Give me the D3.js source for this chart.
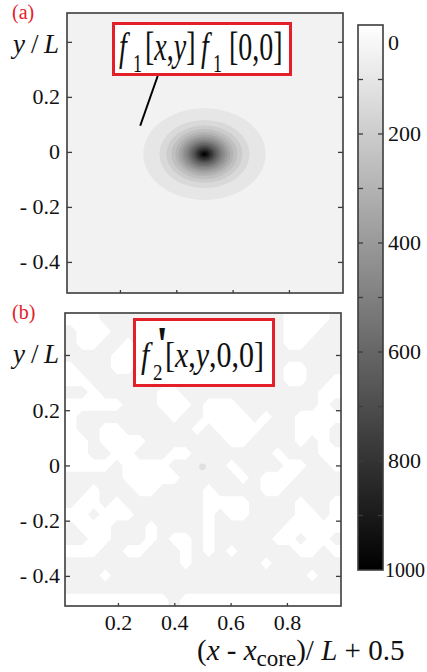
<!DOCTYPE html>
<html>
<head>
<meta charset="utf-8">
<script src="https://cdn.jsdelivr.net/npm/d3@7"></script>
</head>
<body style="margin:0;padding:0;background:#fff">
<svg id="fig" width="427" height="672" style="display:block"></svg>
<script>
// ---------- axes ----------
const xDomain = [0.012, 0.992];
const yDomainA = [-0.513, 0.505];
const yDomainB = [-0.509, 0.552];
const xTickValues = [0.2, 0.4, 0.6, 0.8];
const xTickLabels = ["0.2", "0.4", "0.6", "0.8"];
const yTickValues = [0.4, 0.2, 0, -0.2, -0.4];
const yTickLabels = ["", "0.2", "0", "- 0.2", "- 0.4"];

// ---------- colour bar ----------
const cbDomain = [0, 1000];
const cbTickValues = [0, 100, 200, 300, 400, 500, 600, 700, 800, 900, 1000];
const cbLabelValues = [0, 200, 400, 600, 800, 1000];

// ---------- (a) f1 around the vortex core: filled levels, semi-axes in units of L ----------
const f1Core = [0.5, -0.008];
const f1Levels = [50, 100, 150, 200, 250, 300, 350, 400, 450, 500,
                  550, 600, 650, 700, 750, 800, 850, 900, 950];
const f1Rx = [0.217, 0.160, 0.135, 0.117, 0.103, 0.092, 0.082, 0.073, 0.064, 0.057,
              0.050, 0.043, 0.037, 0.032, 0.027, 0.021, 0.016, 0.011, 0.005];
const f1Ry = [0.167, 0.124, 0.104, 0.091, 0.080, 0.071, 0.063, 0.056, 0.049, 0.044,
              0.039, 0.033, 0.029, 0.025, 0.021, 0.016, 0.012, 0.008, 0.004];

// ---------- (b) f2' residual: sign map, rows from top to bottom ('g' >= 0, 'w' < 0) ----------
const f2Rows = [
  "wwwggg gggggg gggggg gwwwwg",
  "gwwwgg gggggg gggggg gwwwgg",
  "gwwggw gggggg gggggg gwwggg",
  "ggggww gggggg gggggg gggggg",
  "wgggww gggggg gggggg gwwggg",
  "wwgggg gggggg gggggg gwwggw",
  "ggwggg ggwwgg gggggg ggggww",
  "wwwwwg ggwwwg wwwggg ggggwg",
  "wggggg gggwgg wwwwgw ggwwww",
  "wggwwg gggggw gwwwwg ggwwwg",
  "wwgwww wggggg ggwwgg ggwgwg",
  "wwggww gggwwg gggggg wgggww",
  "wwwwgw wwwggg ggwggg gwwggw",
  "gggggw wwwwgg gggwgw wwgggg",
  "ggwggg wwgggg wggggw wggggg",
  "gwwgwg gggggg wwwwgg ggwggw",
  "wwgwww gggggg wgwwgg ggwwgw",
  "gwwwgg gwgggg wggggg gwwwww",
  "ggwwgg gwgwwg wggggg wwgwwg",
  "wwwggw wgggwg wgwggg ggwwgw",
  "gggggg ggggwg gggggw gggggg",
  "gggwgg gggggg gggggg gggwgg",
  "gggggg gggggg gggggg gggggg",
  "wwwwww wwwgww wwwwww wwwwww"
];
const f2Peak = { x: 0.5, y: -0.005, r: 0.012, value: 150 };

// ---------- layout ----------
const panelA = { x0: 67, x1: 343, y0: 13, y1: 293 };
const panelB = { x0: 65, x1: 341, y0: 313, y1: 606 };
const cbBox = { x0: 358, x1: 383, y0: 25, y1: 570 };
const RED = "#e3202a";
const FRAME = "#3c3c3c";
const SERIF = '"Liberation Serif", "Times New Roman", serif';

const svg = d3.select("#fig").style("font-family", SERIF);
const grey = d3.scaleLinear().domain(cbDomain).range(["#ffffff", "#000000"]).clamp(true);

function addText(parent) {
  return parent.append("text").style("font-family", SERIF).style("fill", "#111");
}

function makeScales(p, yDom) {
  return {
    x: d3.scaleLinear().domain(xDomain).range([p.x0, p.x1]),
    y: d3.scaleLinear().domain(yDom).range([p.y1, p.y0])
  };
}
const sA = makeScales(panelA, yDomainA);
const sB = makeScales(panelB, yDomainB);

// a filled band takes the colour of its upper bound
function bandColour(levels, k) {
  return grey(k + 1 < levels.length ? levels[k + 1] : cbDomain[1]);
}

// ---------- panel (a) ----------
const gA = svg.append("g");
gA.append("rect")
  .attr("x", panelA.x0).attr("y", panelA.y0)
  .attr("width", panelA.x1 - panelA.x0).attr("height", panelA.y1 - panelA.y0)
  .attr("fill", grey(f1Levels[0]));

gA.selectAll("ellipse.level")
  .data(f1Levels.map((v, k) => ({ v, k, rx: f1Rx[k], ry: f1Ry[k] })))
  .join("ellipse")
  .attr("class", "level")
  .attr("cx", sA.x(f1Core[0]))
  .attr("cy", sA.y(f1Core[1]))
  .attr("rx", d => sA.x(f1Core[0] + d.rx) - sA.x(f1Core[0]))
  .attr("ry", d => sA.y(f1Core[1]) - sA.y(f1Core[1] + d.ry))
  .attr("fill", d => bandColour(f1Levels, d.k));

// ---------- panel (b) ----------
const gB = svg.append("g");
svg.append("clipPath").attr("id", "clipB")
  .append("rect")
  .attr("x", panelB.x0).attr("y", panelB.y0)
  .attr("width", panelB.x1 - panelB.x0).attr("height", panelB.y1 - panelB.y0);

gB.append("rect")
  .attr("x", panelB.x0).attr("y", panelB.y0)
  .attr("width", panelB.x1 - panelB.x0).attr("height", panelB.y1 - panelB.y0)
  .attr("fill", grey(0));

const rows = f2Rows.map(r => r.replace(/\s/g, ""));
const nx = rows[0].length, ny = rows.length;
// edge-padded grid so the zero contour reaches the frame
const vals = [];
for (let j = -1; j <= ny; j++) {
  const row = rows[Math.max(0, Math.min(ny - 1, j))];
  for (let i = -1; i <= nx; i++) {
    vals.push(row[Math.max(0, Math.min(nx - 1, i))] === "g" ? 1 : -1);
  }
}
const f2Contours = d3.contours().size([nx + 2, ny + 2]).thresholds([0])(vals);
const gridX = d3.scaleLinear().domain([1, nx + 1]).range(xDomain);
const gridY = d3.scaleLinear().domain([1, ny + 1]).range([yDomainB[1], yDomainB[0]]);
const gridPath = d3.geoPath(d3.geoTransform({
  point(gx, gy) { this.stream.point(sB.x(gridX(gx)), sB.y(gridY(gy))); }
}));
gB.append("g").attr("clip-path", "url(#clipB)")
  .selectAll("path")
  .data(f2Contours)
  .join("path")
  .attr("d", gridPath)
  .attr("fill", grey(50));

gB.append("ellipse")
  .attr("cx", sB.x(f2Peak.x)).attr("cy", sB.y(f2Peak.y))
  .attr("rx", sB.x(f2Peak.x + f2Peak.r) - sB.x(f2Peak.x))
  .attr("ry", sB.y(f2Peak.y) - sB.y(f2Peak.y + f2Peak.r))
  .attr("fill", grey(f2Peak.value))
  .attr("opacity", 0.7);

// ---------- axes and frames ----------
function drawAxes(g, s, p, showXLabels, pad) {
  const left = g.append("g").attr("transform", `translate(${p.x0},0)`)
    .call(d3.axisLeft(s.y).tickValues(yTickValues).tickSizeInner(-5).tickSizeOuter(0)
      .tickPadding(pad).tickFormat((d, i) => yTickLabels[i]));
  const right = g.append("g").attr("transform", `translate(${p.x1},0)`)
    .call(d3.axisRight(s.y).tickValues(yTickValues).tickSizeInner(-5).tickSizeOuter(0)
      .tickFormat(""));
  const bottom = g.append("g").attr("transform", `translate(0,${p.y1})`)
    .call(d3.axisBottom(s.x).tickValues(xTickValues).tickSizeInner(-3).tickSizeOuter(0)
      .tickPadding(8).tickFormat((d, i) => showXLabels ? xTickLabels[i] : ""));
  [left, right, bottom].forEach(a => {
    a.select(".domain").remove();
    a.attr("font-family", null).attr("font-size", null);
    a.selectAll("line").attr("stroke", FRAME).attr("stroke-width", 1.3);
    a.selectAll("text").style("font-family", SERIF).style("font-size", "22px").style("fill", "#111");
  });
  g.append("rect")
    .attr("x", p.x0).attr("y", p.y0)
    .attr("width", p.x1 - p.x0).attr("height", p.y1 - p.y0)
    .attr("fill", "none").attr("stroke", FRAME).attr("stroke-width", 1.6);
}
drawAxes(gA, sA, panelA, false, 7);
drawAxes(gB, sB, panelB, true, 5);

// ---------- colour bar ----------
const cbY = d3.scaleLinear().domain(cbDomain).range([cbBox.y0, cbBox.y1]);
const grad = svg.append("defs").append("linearGradient")
  .attr("id", "cbGrad").attr("x1", 0).attr("x2", 0).attr("y1", 0).attr("y2", 1);
grad.selectAll("stop").data(cbTickValues).join("stop")
  .attr("offset", d => (d - cbDomain[0]) / (cbDomain[1] - cbDomain[0]))
  .attr("stop-color", d => grey(d));
const gCb = svg.append("g");
gCb.append("rect")
  .attr("x", cbBox.x0).attr("y", cbBox.y0)
  .attr("width", cbBox.x1 - cbBox.x0).attr("height", cbBox.y1 - cbBox.y0)
  .attr("fill", "url(#cbGrad)");
gCb.selectAll("line.l").data(cbTickValues.slice(1, -1)).join("line")
  .attr("x1", cbBox.x0).attr("x2", cbBox.x0 + 5)
  .attr("y1", d => cbY(d)).attr("y2", d => cbY(d))
  .attr("stroke", FRAME).attr("stroke-width", 1.3);
gCb.selectAll("line.r").data(cbTickValues.slice(1, -1)).join("line")
  .attr("x1", cbBox.x1 - 5).attr("x2", cbBox.x1)
  .attr("y1", d => cbY(d)).attr("y2", d => cbY(d))
  .attr("stroke", FRAME).attr("stroke-width", 1.3);
gCb.append("rect")
  .attr("x", cbBox.x0).attr("y", cbBox.y0)
  .attr("width", cbBox.x1 - cbBox.x0).attr("height", cbBox.y1 - cbBox.y0)
  .attr("fill", "none").attr("stroke", FRAME).attr("stroke-width", 1.6);
gCb.selectAll("text.cb").data(cbLabelValues).join(enter => addText(enter))
  .attr("class", "cb")
  .attr("x", d => d === cbDomain[1] ? cbBox.x1 + 2 : cbBox.x1 + 5)
  .attr("y", d => Math.max(cbBox.y0 + 25, Math.min(cbBox.y1 + 10, cbY(d) + 7)))
  .style("font-size", d => (d === cbDomain[1] ? 20 : 22) + "px")
  .text(d => d3.format("d")(d));

// ---------- panel letters ----------
addText(svg).attr("x", 12).attr("y", 19).style("font-size", "20px")
  .style("fill", RED).text("(a)");
addText(svg).attr("x", 12).attr("y", 319).style("font-size", "20px")
  .style("fill", RED).text("(b)");

// ---------- y labels ----------
function yLabel(baseline) {
  const t = addText(svg).attr("y", baseline).style("font-size", "27px");
  t.append("tspan").attr("x", 13).style("font-style", "italic").text("y");
  t.append("tspan").attr("x", 31).text("/");
  t.append("tspan").attr("x", 44).style("font-style", "italic").text("L");
}
yLabel(53);
yLabel(363);

// ---------- x label ----------
const xl = addText(svg).attr("x", 197).attr("y", 660).style("font-size", "29px");
xl.append("tspan").text("(");
xl.append("tspan").style("font-style", "italic").text("x");
xl.append("tspan").text(" - ");
xl.append("tspan").style("font-style", "italic").text("x");
xl.append("tspan").style("font-size", "23px").attr("dy", 6).text("core");
xl.append("tspan").attr("dy", -6).text(")/ ");
xl.append("tspan").style("font-style", "italic").text("L");
xl.append("tspan").text(" + 0.5");

// ---------- annotation (a) ----------
svg.append("line")
  .attr("x1", sA.x(0.334)).attr("y1", sA.y(0.276))
  .attr("x2", sA.x(0.272)).attr("y2", sA.y(0.095))
  .attr("stroke", "#000").attr("stroke-width", 2);
svg.append("rect").attr("x", 113.5).attr("y", 23.5).attr("width", 177).attr("height", 51)
  .attr("fill", "#fff").attr("stroke", RED).attr("stroke-width", 3);
const ta = addText(svg.append("g").attr("transform", "translate(0,60) scale(1,1.4)"))
  .style("font-size", "28px");
ta.append("tspan").attr("x", 119).attr("y", 0).style("font-style", "italic").text("f");
ta.append("tspan").attr("x", 133).attr("y", 8.6).style("font-size", "18px").text("1");
ta.append("tspan").attr("x", 145).attr("y", 0).text("[");
ta.append("tspan").style("font-style", "italic").text("x");
ta.append("tspan").text(",");
ta.append("tspan").style("font-style", "italic").text("y");
ta.append("tspan").text("]");
ta.append("tspan").attr("x", 201).attr("y", 0).style("font-style", "italic").text("f");
ta.append("tspan").attr("x", 213).attr("y", 8.6).style("font-size", "18px").text("1");
ta.append("tspan").attr("x", 229).attr("y", 0).text("[0,0]");

// ---------- annotation (b) ----------
svg.append("rect").attr("x", 134.5).attr("y", 319.5).attr("width", 139).attr("height", 66)
  .attr("fill", "#fff").attr("stroke", RED).attr("stroke-width", 3);
const tb = addText(svg.append("g").attr("transform", "translate(0,367) scale(1,1.16)"))
  .style("font-size", "30px");
tb.append("tspan").attr("x", 141).attr("y", 0).style("font-style", "italic").text("f");
tb.append("tspan").attr("x", 156).attr("y", -5).style("font-size", "44px").style("font-weight", "bold").text("'");
tb.append("tspan").attr("x", 153).attr("y", 11).style("font-size", "19px").text("2");
tb.append("tspan").attr("x", 165).attr("y", 0).text("[");
tb.append("tspan").style("font-style", "italic").text("x");
tb.append("tspan").text(",");
tb.append("tspan").style("font-style", "italic").text("y");
tb.append("tspan").text(",0,0]");
</script>
</body>
</html>
